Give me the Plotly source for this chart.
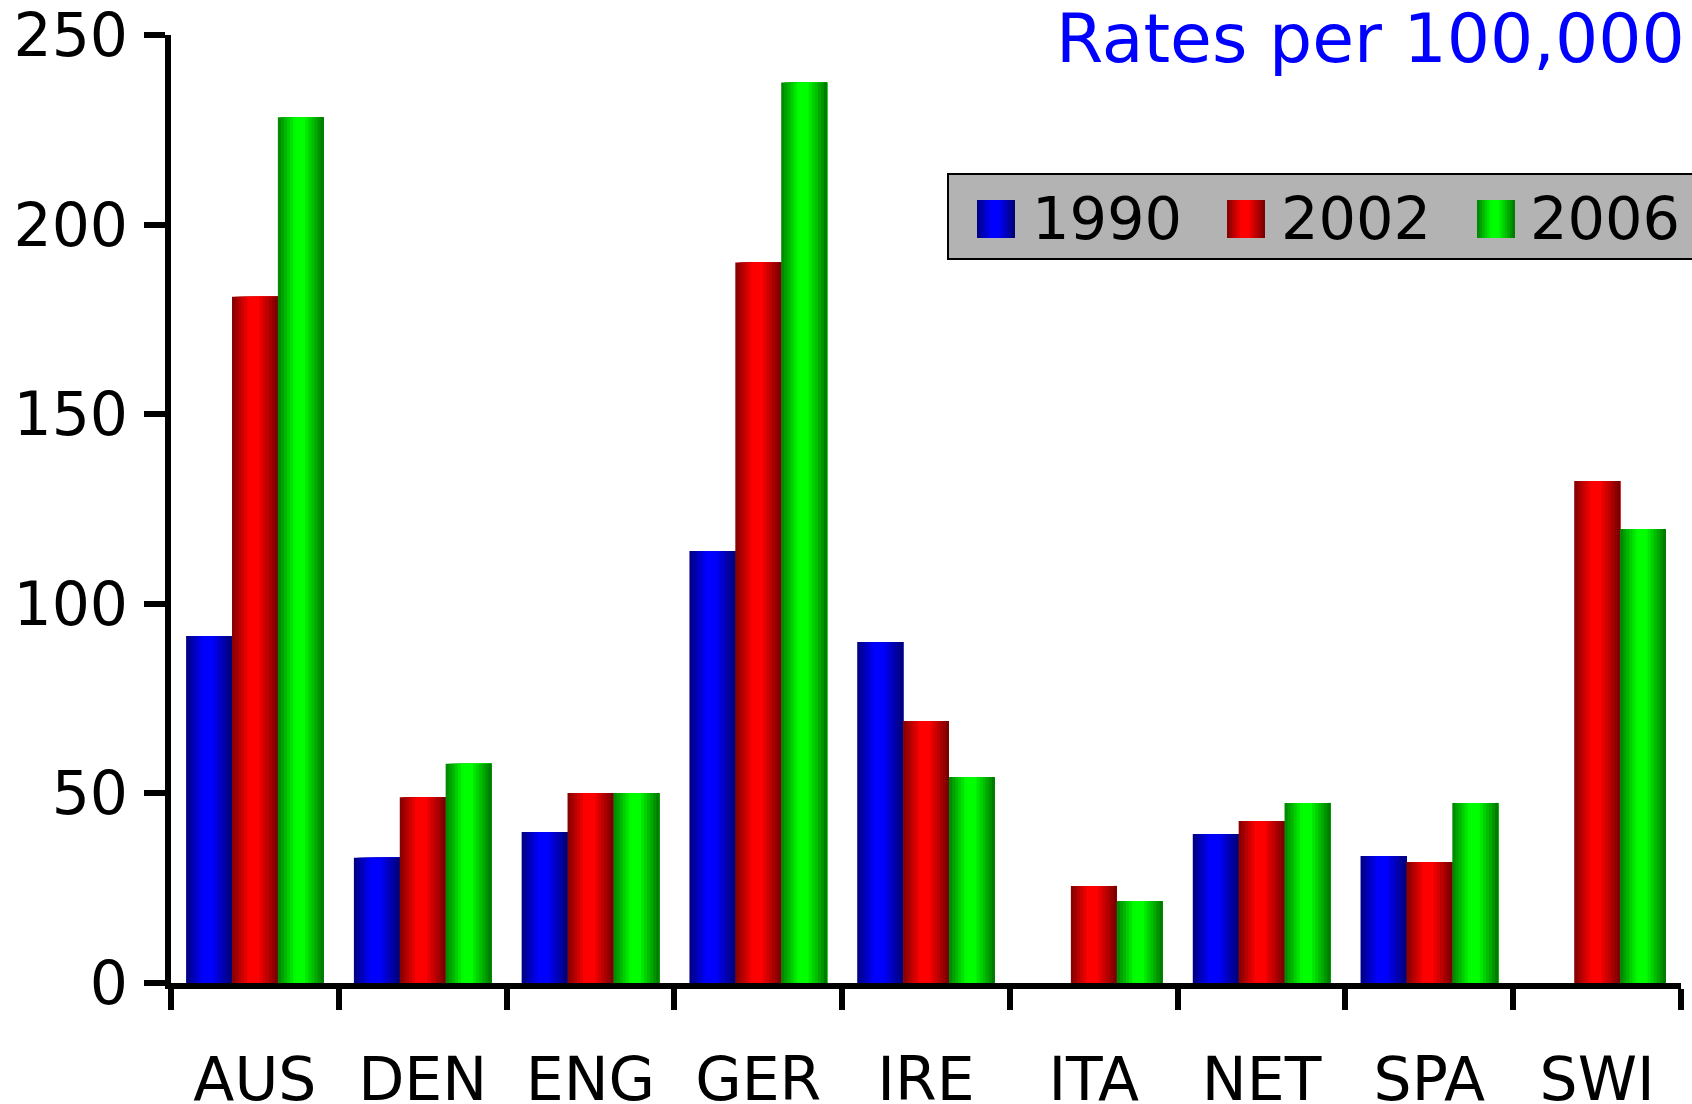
import plotly.graph_objects as go

# values (rates per 100,000)
countries = ["AUS", "DEN", "ENG", "GER", "IRE", "ITA", "NET", "SPA", "SWI"]
years = ["1990", "2002", "2006"]
rates_1990 = [91.5, 33.0, 39.8, 113.9, 89.9, None, 39.3, 33.5, None]
rates_2002 = [181.0, 49.0, 50.1, 190.0, 69.1, 25.6, 42.7, 31.9, 132.4]
rates_2006 = [228.3, 57.8, 50.1, 237.5, 54.3, 21.6, 47.5, 47.5, 119.7]
y_ticks = [0, 50, 100, 150, 200, 250]

# base colours of the three series (r, g, b)
base_colors = [(0, 0, 255), (255, 0, 0), (0, 255, 0)]

FONT = "DejaVu Sans"
W, H = 1692, 1104
PLOT_L, PLOT_R, PLOT_T, PLOT_B = 171, 1681, 35, 983
BAR_W = 0.2735
GROUP_START = -0.41
N_STRIPS = 15


def shade(rgb, t):
    # dark at both edges, a flat bright band a little left of the middle
    if t < 0.38:
        k = 0.5 + 0.5 * t / 0.38
    elif t < 0.56:
        k = 1.0
    else:
        k = 1.0 - 0.55 * (t - 0.56) / 0.44
    return "rgb({},{},{})".format(*[int(round(c * k)) for c in rgb])


def px_x(x):
    return (x - PLOT_L) / (PLOT_R - PLOT_L)


def px_y(y):
    return (PLOT_B - y) / (PLOT_B - PLOT_T)


def main():
    fig = go.Figure()
    series = [rates_1990, rates_2002, rates_2006]
    step = BAR_W / N_STRIPS

    # each bar is a stack of overlapping strips to fake the horizontal gradient
    for k, (name, vals) in enumerate(zip(years, series)):
        start = GROUP_START + k * BAR_W
        for i in range(N_STRIPS):
            fig.add_trace(
                go.Bar(
                    x=countries,
                    y=vals,
                    name=name,
                    legendgroup=name,
                    showlegend=False,
                    offset=start + i * step,
                    width=BAR_W - i * step,
                    marker=dict(color=shade(base_colors[k], (i + 0.5) / N_STRIPS), line=dict(width=0)),
                    hovertemplate="%{x} " + name + ": %{y}<extra></extra>",
                )
            )

    shapes = []
    annotations = []

    # legend box drawn by hand (plotly's bar swatches are too small)
    shapes.append(
        dict(
            type="rect", xref="paper", yref="paper",
            x0=px_x(948), x1=px_x(1710), y0=px_y(259), y1=px_y(174),
            fillcolor="#b3b3b3", line=dict(color="black", width=2), layer="above",
        )
    )
    sw_left = [977, 1227, 1477]
    txt_left = [1030, 1279, 1528]
    for k, name in enumerate(years):
        sw = 38.0 / N_STRIPS
        for i in range(N_STRIPS):
            shapes.append(
                dict(
                    type="rect", xref="paper", yref="paper",
                    x0=px_x(sw_left[k] + i * sw), x1=px_x(sw_left[k] + 38),
                    y0=px_y(238), y1=px_y(200),
                    fillcolor=shade(base_colors[k], (i + 0.5) / N_STRIPS),
                    line=dict(width=0), layer="above",
                )
            )
        annotations.append(
            dict(
                text=name, xref="paper", yref="paper",
                x=px_x(txt_left[k]), y=px_y(219), xanchor="left", yanchor="middle",
                showarrow=False, font=dict(family=FONT, size=59, color="black"),
            )
        )

    annotations.append(
        dict(
            text="Rates per 100,000", xref="paper", yref="paper",
            x=px_x(1687), y=px_y(38), xanchor="right", yanchor="middle",
            showarrow=False, font=dict(family=FONT, size=68, color="#0000ff"),
        )
    )

    fig.update_layout(
        width=W,
        height=H,
        barmode="overlay",
        showlegend=False,
        plot_bgcolor="white",
        paper_bgcolor="white",
        margin=dict(l=PLOT_L, r=W - PLOT_R, t=PLOT_T, b=H - PLOT_B, pad=0),
        font=dict(family=FONT, size=60, color="black"),
        shapes=shapes,
        annotations=annotations,
    )
    fig.update_xaxes(
        type="category",
        range=[-0.5, len(countries) - 0.5],
        tickson="boundaries",
        ticks="outside",
        ticklen=21,
        tickwidth=6,
        tickcolor="black",
        showline=True,
        linewidth=6,
        linecolor="black",
        showgrid=False,
        zeroline=False,
        ticklabelstandoff=39,
        tickfont=dict(family=FONT, size=60, color="black"),
        automargin=False,
    )
    fig.update_yaxes(
        range=[0, 250],
        tickvals=y_ticks,
        ticks="outside",
        ticklen=21,
        tickwidth=6,
        tickcolor="black",
        showline=True,
        linewidth=6,
        linecolor="black",
        showgrid=False,
        zeroline=False,
        ticklabelstandoff=4,
        tickfont=dict(family=FONT, size=60, color="black"),
        automargin=False,
    )

    # drop the default 8px body margin so the figure fills the window
    fig.write_html(
        "out.html",
        config={"displayModeBar": False},
        post_script="document.body.style.margin = '0';",
    )


if __name__ == "__main__":
    main()
